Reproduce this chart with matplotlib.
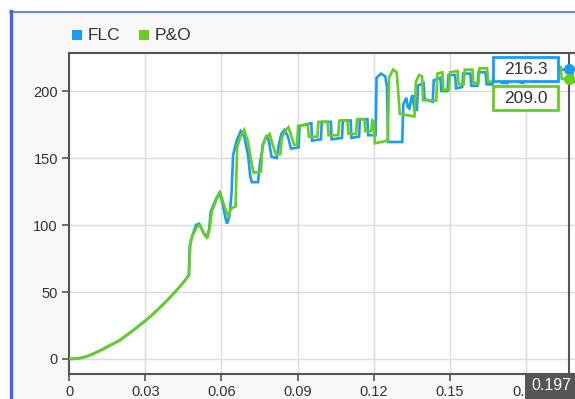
import matplotlib
matplotlib.use("Agg")
import matplotlib.pyplot as plt
from matplotlib.patches import Rectangle
from matplotlib.lines import Line2D

# --- Datos ---
# tramo inicial comun (misma curva para ambos metodos)
rise_t = [0, 0.0025, 0.005, 0.0075, 0.01, 0.0125, 0.015, 0.0175, 0.02, 0.0225,
          0.025, 0.0275, 0.03, 0.0325, 0.035, 0.0375, 0.04, 0.0425, 0.045, 0.0468]
rise_v = [0, 0.2, 0.9, 2.2, 4.3, 6.5, 9, 11.5, 14, 17.5,
          21, 24.7, 28.5, 32.5, 37, 41.5, 46.5, 51.5, 57, 61.5]

flc_t = [0.0472, 0.0475, 0.0482, 0.0500, 0.0512, 0.0530, 0.0542, 0.0552, 0.0558, 0.0580,
         0.0592, 0.0605, 0.0615, 0.0622, 0.0632, 0.0640, 0.0646, 0.0660, 0.0676, 0.0690,
         0.0705, 0.0714, 0.0720, 0.0744, 0.0752, 0.0764, 0.0778, 0.0788, 0.0797, 0.0818,
         0.0826, 0.0836, 0.0848, 0.0862, 0.0874, 0.0904, 0.0908, 0.0954, 0.0957, 0.0992,
         0.0995, 0.1031, 0.1034, 0.1075, 0.1078, 0.1109, 0.1112, 0.1142, 0.1145, 0.1175,
         0.1178, 0.1207, 0.1211, 0.1228, 0.1245, 0.1252, 0.1256, 0.1312, 0.1316, 0.1328,
         0.1334, 0.1340, 0.1346, 0.1352, 0.1360, 0.1370, 0.1374, 0.1396, 0.1400, 0.1432,
         0.1436, 0.1462, 0.1466, 0.1490, 0.1494, 0.1520, 0.1524, 0.1548, 0.1552, 0.1580,
         0.1584, 0.1608, 0.1612, 0.1640, 0.1644, 0.1668, 0.1672, 0.1700, 0.1704, 0.1728,
         0.1732, 0.1760, 0.1764, 0.1788, 0.1792, 0.1820, 0.1824, 0.1848, 0.1852, 0.1880,
         0.1884, 0.1912, 0.1916, 0.1960, 0.1970, 0.1980, 0.1984, 0.2050]
flc_v = [63, 84, 90, 100, 101, 94, 91, 97, 110, 120,
         124, 116, 106, 101, 107, 124, 152, 163, 170, 166,
         152, 136, 132, 132, 146, 160, 167, 162, 151, 150,
         160, 168, 171, 166, 157, 158, 174, 176, 163, 164,
         177, 177, 164, 165, 178, 178, 165, 166, 179, 179,
         167, 167, 210, 213, 211, 203, 162, 162, 190, 195,
         188, 187, 193, 197, 186, 186, 204, 206, 194, 192,
         208, 210, 200, 200, 212, 212, 202, 203, 213, 213,
         204, 204, 214, 214, 205, 205, 215, 215, 206, 206,
         216, 216, 207, 206, 216, 216, 207, 207, 216, 216,
         207, 207, 216, 216, 216.3, 216.5, 207, 207]

po_t = [0.0472, 0.0478, 0.0486, 0.0505, 0.0516, 0.0535, 0.0546, 0.0555, 0.0562, 0.0585,
        0.0596, 0.0612, 0.0628, 0.0636, 0.0656, 0.0662, 0.0675, 0.0690, 0.0705, 0.0720,
        0.0727, 0.0756, 0.0762, 0.0775, 0.0790, 0.0802, 0.0814, 0.0832, 0.0838, 0.0850,
        0.0864, 0.0878, 0.0886, 0.0898, 0.0902, 0.0940, 0.0944, 0.0978, 0.0982, 0.1018,
        0.1022, 0.1060, 0.1064, 0.1096, 0.1100, 0.1130, 0.1134, 0.1163, 0.1167, 0.1190,
        0.1194, 0.1200, 0.1204, 0.1255, 0.1260, 0.1276, 0.1290, 0.1296, 0.1302, 0.1360,
        0.1366, 0.1378, 0.1390, 0.1394, 0.1446, 0.1450, 0.1470, 0.1474, 0.1496, 0.1500,
        0.1530, 0.1534, 0.1554, 0.1558, 0.1588, 0.1592, 0.1612, 0.1616, 0.1646, 0.1650,
        0.1670, 0.1674, 0.1704, 0.1708, 0.1728, 0.1732, 0.1762, 0.1766, 0.1786, 0.1790,
        0.1820, 0.1824, 0.1844, 0.1848, 0.1878, 0.1882, 0.1902, 0.1906, 0.1936, 0.1940,
        0.1970, 0.2000, 0.2004, 0.2050]
po_v = [63, 86, 92, 99, 100, 92, 91, 99, 110, 121,
        124, 114, 106, 112, 114, 158, 166, 171, 162, 145,
        139, 140, 160, 165, 168, 160, 153, 153, 165, 170,
        173, 165, 160, 160, 174, 175, 166, 166, 177, 177,
        167, 167, 178, 178, 168, 168, 179, 179, 170, 170,
        178, 177, 161, 163, 210, 216, 214, 200, 183, 181,
        207, 212, 211, 193, 193, 213, 214, 201, 201, 214,
        215, 205, 205, 216, 216, 206, 206, 217, 217, 207,
        207, 217, 217, 208, 208, 218, 218, 208, 208, 218,
        218, 209, 209, 218, 218, 209, 209, 218, 218, 209,
        209.0, 209, 217, 217]

series_names = ["FLC", "P&O"]
series_colors = ["#1a9bfc", "#66cf1c"]
cursor_t = 0.197
cursor_vals = [216.3, 209.0]
x_ticks = [0, 0.03, 0.06, 0.09, 0.12, 0.15, 0.18]
x_labels = ["0", "0.03", "0.06", "0.09", "0.12", "0.15", "0.18"]
y_ticks = [0, 50, 100, 150, 200]

W, H = 575, 399


def fig_xy(px, py):
    # convierte pixeles (origen arriba-izquierda) a fraccion de figura
    return px / W, 1 - py / H


def build_plot():
    plt.rcParams["font.family"] = ["Liberation Sans", "DejaVu Sans"]
    fig = plt.figure(figsize=(W / 100, H / 100), dpi=100, facecolor="white")

    # marco del panel
    fig.add_artist(Rectangle(fig_xy(10, H), 1, 1 - 11 / H, transform=fig.transFigure,
                             facecolor="#f8f8f8", edgecolor="none", zorder=-5))
    fig.add_artist(Line2D([10 / W, 1], [1 - 11.5 / H] * 2, transform=fig.transFigure,
                          color="#4a6ff0", lw=1.2))
    fig.add_artist(Line2D([10.5 / W] * 2, [0, 1 - 11 / H], transform=fig.transFigure,
                          color="#3d66f2", lw=2.4))

    left, top = fig_xy(69, 53)
    right, bottom = fig_xy(590, 374)
    ax = fig.add_axes([left, bottom, right - left, top - bottom])
    ax.set_facecolor("white")

    full_t = [rise_t + flc_t, rise_t + po_t]
    full_v = [rise_v + flc_v, rise_v + po_v]
    for t, v, c in zip(full_t, full_v, series_colors):
        ax.plot(t, v, color=c, lw=1.9, solid_joinstyle="miter", zorder=3)

    ax.set_xlim(0, (590 - 69) / 76.2 * 0.03)
    ax.set_ylim(-11.2, 228.4)
    ax.set_xticks(x_ticks)
    ax.set_xticklabels(x_labels)
    ax.set_yticks(y_ticks)
    ax.grid(True, color="#dadada", lw=1)
    ax.set_axisbelow(True)
    for side in ["left", "bottom", "top"]:
        ax.spines[side].set_color("#555555")
        ax.spines[side].set_linewidth(1.5)
    ax.spines["right"].set_visible(False)
    ax.tick_params(colors="#555555", labelcolor="#333333", labelsize=10.5,
                   length=5, width=1.2, pad=3)

    # cursor de datos
    ax.axvline(cursor_t, color="#555555", lw=1.5, zorder=4)
    for val, c in zip(cursor_vals, series_colors):
        ax.plot([cursor_t], [val], "o", color=c, ms=7, zorder=5, clip_on=False)

    # cajas con valores del cursor
    for i, (val, c) in enumerate(zip(cursor_vals, series_colors)):
        y0 = 57 + i * 29
        fig.add_artist(Rectangle(fig_xy(493, y0 + 24), 65 / W, 24 / H,
                                 transform=fig.transFigure, facecolor="white",
                                 edgecolor=c, lw=2, zorder=6))
        fig.text(525.5 / W, 1 - (y0 + 12.5) / H, f"{val:.1f}", ha="center",
                 va="center", fontsize=12.5, color="#333333", zorder=7)

    # etiqueta del tiempo del cursor
    fig.add_artist(Rectangle(fig_xy(525, H), 60 / W, 24 / H, transform=fig.transFigure,
                             facecolor="#555555", edgecolor="none", zorder=6))
    fig.text(531 / W, 1 - 386 / H, f"{cursor_t:.3f}", ha="left", va="center",
             fontsize=11.5, color="white", zorder=7)

    # leyenda
    for name, c, sx in zip(series_names, series_colors, [72, 139]):
        fig.add_artist(Rectangle(fig_xy(sx, 40), 9.5 / W, 9.5 / H,
                                 transform=fig.transFigure, facecolor=c,
                                 edgecolor="none"))
        fig.text((sx + 16) / W, 1 - 35.5 / H, name, ha="left", va="center",
                 fontsize=12.5, color="#333333")

    return fig


if __name__ == "__main__":
    fig = build_plot()
    fig.savefig("out.png", dpi=100, facecolor=fig.get_facecolor())
